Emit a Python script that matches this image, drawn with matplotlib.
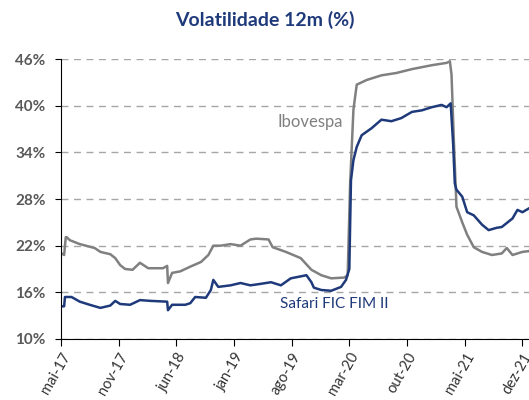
import matplotlib.pyplot as plt
from matplotlib.ticker import FuncFormatter

plt.rcParams['font.family'] = ['Lato', 'DejaVu Sans']

# meses desde mai-17
ibov_x = [0.1, 0.4, 0.6, 0.7, 1.1, 2.3, 4.1, 4.8, 6.0, 6.6, 7.2, 7.8, 8.7, 9.6, 10.6, 11.5,
          12.4, 12.9, 13.0, 13.5, 14.5, 15.7, 17.0, 17.9, 18.5, 19.4, 20.6, 21.8, 23.0, 23.7,
          25.2, 25.7, 27.3, 29.1, 30.4, 31.6, 32.8, 34.4, 34.8, 35.1, 35.5, 35.9, 37.1, 38.9,
          40.7, 42.6, 45.0, 46.8, 47.2, 47.4, 47.7, 48.0, 48.7, 49.3, 50.1, 51.1, 52.3, 53.5,
          54.1, 54.8, 56.0, 56.8]
ibov_y = [21.0, 20.8, 23.1, 23.1, 22.7, 22.2, 21.7, 21.2, 20.9, 20.4, 19.5, 19.0, 18.9, 19.8, 19.1, 19.1,
          19.1, 19.4, 17.2, 18.5, 18.7, 19.3, 19.9, 20.8, 22.0, 22.0, 22.2, 22.0, 22.8, 22.9,
          22.8, 21.8, 21.2, 20.4, 18.9, 18.2, 17.8, 17.9, 18.2, 30.0, 39.5, 42.7, 43.3, 43.9,
          44.2, 44.7, 45.2, 45.5, 45.7, 44.0, 35.0, 27.0, 25.0, 23.4, 21.8, 21.2, 20.8, 21.0,
          21.7, 20.8, 21.2, 21.3]

safari_x = [0.1, 0.4, 0.5, 1.3, 2.3, 3.5, 4.8, 6.0, 6.6, 7.2, 8.4, 9.6, 10.9, 12.9, 13.0, 13.5,
            15.1, 15.7, 16.3, 17.6, 18.2, 18.5, 19.1, 20.6, 21.8, 23.0, 24.3, 25.5, 26.7, 27.9,
            29.8, 30.4, 30.7, 31.6, 32.8, 34.0, 34.6, 35.0, 35.2, 35.5, 35.9, 36.5, 37.7, 38.9,
            40.1, 41.3, 42.6, 43.8, 45.0, 46.2, 46.8, 47.3, 47.6, 47.8, 48.0, 48.7, 49.3, 50.1,
            51.1, 51.9, 52.9, 53.5, 54.8, 55.4, 56.0, 56.8]
safari_y = [14.2, 14.2, 15.4, 15.4, 14.8, 14.4, 14.0, 14.3, 14.9, 14.5, 14.4, 15.0, 14.9, 14.8, 13.7, 14.4,
            14.4, 14.6, 15.4, 15.3, 16.3, 17.6, 16.7, 16.9, 17.2, 16.9, 17.1, 17.3, 16.9, 17.8,
            18.2, 17.3, 16.6, 16.3, 16.2, 16.7, 17.6, 19.0, 30.4, 33.0, 34.7, 36.2, 37.1, 38.2,
            38.0, 38.4, 39.2, 39.4, 39.8, 40.1, 39.8, 40.3, 35.0, 30.0, 29.2, 28.3, 26.3, 25.9,
            24.7, 24.0, 24.3, 24.4, 25.5, 26.6, 26.3, 26.8]

tick_pos = [0, 7, 14, 21, 28, 35, 42, 49, 56]
tick_labels = ["mai-17", "nov-17", "jun-18", "jan-19", "ago-19", "mar-20", "out-20", "mai-21", "dez-21"]
y_ticks = [10, 16, 22, 28, 34, 40, 46]

navy = "#1F3A7A"
cinza = "#808080"

fig = plt.figure(figsize=(5.29, 4), dpi=100)
ax = fig.add_axes([0.115, 0.1525, 0.885, 0.70])

ax.plot(ibov_x, ibov_y, color=cinza, lw=1.8)
ax.plot(safari_x, safari_y, color=navy, lw=1.8)

ax.set_xlim(0, 56.8)
ax.set_ylim(10, 46)
ax.set_yticks(y_ticks)
ax.yaxis.set_major_formatter(FuncFormatter(lambda v, p: f"{v:.0f}%"))
ax.set_xticks(tick_pos)
ax.set_xticklabels(tick_labels, rotation=60, ha="right", rotation_mode="anchor")

for t in ax.get_yticklabels():
    t.set_fontweight("bold")
    t.set_color("#595959")
    t.set_fontsize(11)
for t in ax.get_xticklabels():
    t.set_color("#333333")
    t.set_fontsize(10.5)

ax.grid(axis="y", linestyle=(0, (5, 4)), color="#A6A6A6", lw=1)
ax.set_axisbelow(True)
for s in ["top", "right"]:
    ax.spines[s].set_visible(False)
ax.spines["left"].set_color("black")
ax.spines["bottom"].set_color("black")
ax.tick_params(axis="y", length=4, pad=7)
ax.tick_params(axis="x", length=5, pad=3)

ax.text(26.3, 37.3, "Ibovespa", color=cinza, fontsize=12)
ax.text(26.6, 14.0, "Safari FIC FIM II", color=navy, fontsize=11)

fig.text(0.5, 0.95, "Volatilidade 12m (%)", ha="center", va="center",
         fontsize=14, fontweight="bold", color=navy)

fig.savefig("out.png", dpi=100)
